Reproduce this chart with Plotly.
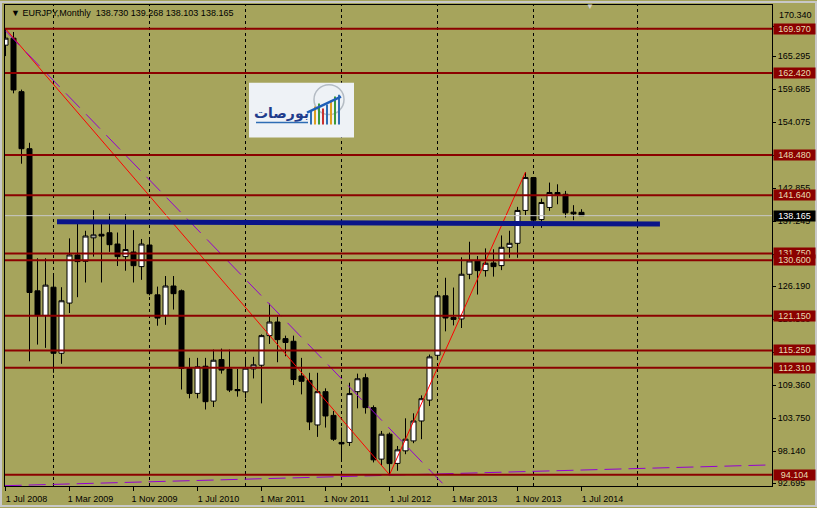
import plotly.graph_objects as go
import pandas as pd

# ---------------- data ----------------
symbol = "EURJPY,Monthly"
last_ohlc = ["138.730", "139.268", "138.103", "138.165"]

months = [d.strftime("%Y-%m") for d in pd.date_range("2008-07-01", periods=73, freq="MS")]

opens = [167.16, 168.35, 159.25, 149.55, 125.38, 121.20, 126.00, 114.76, 123.30, 131.48,
         130.40, 134.40, 135.00, 135.26, 133.34, 131.20, 131.98, 129.50, 133.17, 124.70,
         121.20, 126.20, 125.38, 112.17, 107.94, 112.56, 106.63, 113.70, 112.10, 108.60,
         108.20, 112.10, 112.73, 117.76, 120.08, 117.25, 116.80, 110.90, 110.14, 102.57,
         108.23, 104.20, 99.60, 99.60, 108.23, 110.60, 105.52, 96.76, 101.00, 96.03,
         98.17, 99.86, 103.25, 106.80, 114.42, 124.54, 120.86, 120.60, 128.20, 130.46,
         128.82, 130.12, 129.67, 132.78, 133.46, 139.05, 144.64, 137.50, 139.56, 142.10,
         141.80, 138.76, 138.730]
highs = [169.97, 169.40, 159.60, 150.56, 130.92, 130.92, 128.38, 126.00, 134.30, 136.85,
         135.60, 139.10, 136.85, 138.50, 135.30, 138.40, 135.70, 134.20, 134.30, 126.10,
         127.90, 127.90, 125.60, 113.98, 113.98, 113.98, 115.40, 115.56, 115.40, 112.10,
         113.98, 114.15, 117.98, 123.20, 121.03, 117.76, 117.76, 113.98, 111.44, 111.44,
         108.80, 104.94, 102.13, 109.75, 111.30, 111.30, 105.90, 101.55, 101.28, 99.00,
         103.70, 104.55, 107.60, 114.54, 124.90, 127.60, 125.94, 131.09, 133.73, 131.30,
         132.60, 132.44, 134.80, 135.60, 139.66, 145.58, 144.75, 141.08, 143.79, 143.50,
         142.37, 139.95, 139.268]
lows = [165.30, 158.97, 147.00, 113.40, 116.24, 115.68, 111.44, 112.97, 121.60, 124.30,
        126.80, 131.20, 126.80, 132.00, 129.60, 128.80, 126.80, 127.25, 124.60, 119.45,
        119.60, 122.20, 108.60, 107.10, 107.10, 105.20, 105.62, 111.30, 108.16, 107.38,
        107.10, 110.48, 106.24, 116.35, 113.24, 114.25, 109.35, 107.77, 101.70, 100.54,
        102.13, 99.86, 96.30, 99.00, 105.40, 104.50, 96.20, 95.63, 94.10, 94.78,
        97.60, 99.47, 100.15, 105.79, 113.60, 118.49, 119.50, 119.06, 127.36, 124.75,
        127.80, 127.80, 128.90, 131.00, 131.00, 138.25, 136.56, 136.10, 138.98, 140.10,
        137.86, 137.40, 138.103]
closes = [168.35, 159.54, 149.55, 125.10, 121.20, 126.35, 114.76, 123.69, 131.48, 130.35,
          134.70, 134.90, 134.70, 133.23, 131.20, 132.40, 129.66, 133.34, 124.90, 120.75,
          126.20, 124.90, 112.17, 107.94, 112.46, 106.53, 113.58, 111.90, 108.50, 108.40,
          112.22, 112.80, 117.76, 120.08, 117.08, 116.60, 110.30, 110.00, 103.08, 108.23,
          104.10, 100.15, 99.35, 107.90, 110.43, 105.52, 96.64, 101.00, 96.00, 98.34,
          100.15, 103.25, 107.04, 114.15, 124.54, 120.76, 120.52, 128.20, 130.46, 128.82,
          130.07, 129.50, 132.78, 133.46, 139.05, 144.64, 137.40, 140.40, 142.10, 141.69,
          138.64, 138.47, 138.165]

tick_months = ["2008-07", "2009-03", "2009-11", "2010-07", "2011-03",
               "2011-11", "2012-07", "2013-03", "2013-11", "2014-07"]
tick_text = ["1 Jul 2008", "1 Mar 2009", "1 Nov 2009", "1 Jul 2010", "1 Mar 2011",
             "1 Nov 2011", "1 Jul 2012", "1 Mar 2013", "1 Nov 2013", "1 Jul 2014"]
grid_bars = [6, 18, 30, 42, 54, 66, 79]

price_ticks = [170.340, 165.295, 159.685, 154.075, 148.465, 142.855, 137.245, 131.635,
               126.190, 120.580, 114.970, 109.360, 103.750, 98.140, 92.695]
top_tick_label = "170.340"
hline_levels = [169.970, 162.420, 148.480, 141.640, 131.750, 130.600,
                121.150, 115.250, 112.310, 94.104]
current_price = 138.165

zigzag_months = ["2008-07", "2012-07", "2013-12"]
zigzag_prices = [169.97, 94.104, 145.58]

violet_top_bars = [0.0, 57.0]
violet_top_prices = [169.6, 89.3]
violet_bottom_bars = [-0.1, 96.0]
violet_bottom_prices = [92.24, 95.79]

blue_bars = [6.44, 81.8]
blue_prices = [137.12, 136.73]

# ---------------- helpers ----------------
idx = {m: i for i, m in enumerate(months)}
x = list(range(len(months)))

BG = "#A6A45C"
RED = "#8B0000"
L, T, W, H = 5, 4, 767, 483
FONT = "Liberation Sans, Arial, sans-serif"


def pp(px, py):
    return (px - L) / W, 1 - (py - T) / H


fig = go.Figure()

fig.add_trace(go.Candlestick(
    x=x, open=opens, high=highs, low=lows, close=closes,
    increasing=dict(line=dict(color="black", width=1), fillcolor="white"),
    decreasing=dict(line=dict(color="black", width=1), fillcolor="black"),
    whiskerwidth=0, showlegend=False, hoverinfo="skip"))

fig.add_trace(go.Scatter(
    x=[idx[m] for m in zigzag_months], y=zigzag_prices, mode="lines",
    line=dict(color="#FF0000", width=1), showlegend=False, hoverinfo="skip"))

fig.add_trace(go.Scatter(
    x=violet_top_bars, y=violet_top_prices, mode="lines",
    line=dict(color="#9400D3", width=1, dash="20px,9px"), showlegend=False, hoverinfo="skip"))
fig.add_trace(go.Scatter(
    x=violet_bottom_bars, y=violet_bottom_prices, mode="lines",
    line=dict(color="#9400D3", width=1, dash="17px,7px"), showlegend=False, hoverinfo="skip"))

shapes = []
for g in grid_bars:
    shapes.append(dict(type="line", xref="x", yref="paper", x0=g, x1=g, y0=0, y1=1,
                       line=dict(color="black", width=1, dash="3px,3px"), layer="below"))
shapes.append(dict(type="line", xref="paper", yref="y", x0=0, x1=1,
                   y0=current_price, y1=current_price, line=dict(color="#C8C8C8", width=1)))
for lv in hline_levels:
    shapes.append(dict(type="line", xref="paper", yref="y", x0=0, x1=1, y0=lv, y1=lv,
                       line=dict(color=RED, width=2)))
shapes.append(dict(type="line", xref="x", yref="y", x0=blue_bars[0], x1=blue_bars[1],
                   y0=blue_prices[0], y1=blue_prices[1],
                   line=dict(color="#0A1488", width=5)))

# logo box (decoration)
x0, y0 = pp(249, 82)
x1, y1 = pp(354, 137)
shapes.append(dict(type="rect", xref="paper", yref="paper", x0=x0, y0=y1, x1=x1, y1=y0,
                   fillcolor="#EEF2F6", line=dict(width=0)))
gx0, gy0 = pp(314, 84)
gx1, gy1 = pp(344, 114)
shapes.append(dict(type="circle", xref="paper", yref="paper", x0=gx0, y0=gy1, x1=gx1, y1=gy0,
                   line=dict(color="#B4BCC4", width=1.5)))
bar_cols = ["#2E6DB4", "#E0A020", "#3A9A3A", "#C83030", "#2E6DB4", "#E0A020", "#3A9A3A", "#2E6DB4"]
bar_tops = [110, 106, 103, 108, 104, 100, 96, 94]
for k, (c, tp) in enumerate(zip(bar_cols, bar_tops)):
    bx0, by0 = pp(310 + 4 * k, tp)
    bx1, by1 = pp(312 + 4 * k, 124)
    shapes.append(dict(type="rect", xref="paper", yref="paper", x0=bx0, y0=by1, x1=bx1, y1=by0,
                       fillcolor=c, line=dict(width=0)))
ax0, ay0 = pp(307, 112)
ax1, ay1 = pp(341, 96)
shapes.append(dict(type="line", xref="paper", yref="paper", x0=ax0, y0=ay0, x1=ax1, y1=ay1,
                   line=dict(color="#1F5FB8", width=2.5)))
ux0, uy0 = pp(256, 122)
ux1, uy1 = pp(308, 122)
shapes.append(dict(type="line", xref="paper", yref="paper", x0=ux0, y0=uy0, x1=ux1, y1=uy1,
                   line=dict(color="#2E6DB4", width=1.5)))

# outer window border
bx0, by0 = pp(1, 1)
bx1, by1 = pp(816, 507)
shapes.append(dict(type="rect", xref="paper", yref="paper", x0=bx0, y0=by1, x1=bx1, y1=by0,
                   line=dict(color="#C8C8C8", width=2), layer="above"))

annotations = []
hx, hy = pp(9, 12)
annotations.append(dict(xref="paper", yref="paper", x=hx, y=hy, xanchor="left", yanchor="middle",
                        text="▼ " + symbol + "  " + " ".join(last_ohlc), showarrow=False,
                        font=dict(family=FONT, size=9, color="black")))
sx, sy = pp(596, 6)
annotations.append(dict(xref="paper", yref="paper", x=sx, y=sy, text="▼", showarrow=False,
                        yanchor="middle", font=dict(size=8, color="#D0D0D0")))
tx, ty = pp(281, 113)
annotations.append(dict(xref="paper", yref="paper", x=tx, y=ty, text="<b>بورصات</b>",
                        xanchor="center", yanchor="middle",
                        showarrow=False, font=dict(family="DejaVu Sans", size=14, color="#1E3C8C")))

for lv in hline_levels:
    annotations.append(dict(xref="paper", yref="y", x=1, y=lv, xanchor="left", xshift=1,
                            text=f"{lv:.3f}", showarrow=False, width=41, height=10,
                            bgcolor=RED, borderpad=0,
                            font=dict(family=FONT, size=9, color="#E8DCB0")))
annotations.append(dict(xref="paper", yref="y", x=1, y=current_price, xanchor="left", xshift=1,
                        text=f"{current_price:.3f}", showarrow=False, width=41, height=10,
                        bgcolor="black", borderpad=0,
                        font=dict(family=FONT, size=9, color="white")))
# top scale label drawn just above its tick, as the terminal does
lx, ly = pp(777, 14)
annotations.append(dict(xref="paper", yref="paper", x=lx, y=ly, xanchor="left", yanchor="middle",
                        text=top_tick_label, showarrow=False,
                        font=dict(family=FONT, size=9, color="black")))

fig.update_layout(
    width=817, height=508,
    margin=dict(l=L, r=817 - L - W, t=T, b=508 - T - H),
    paper_bgcolor=BG, plot_bgcolor=BG,
    boxgap=0.375, boxgroupgap=0,
    shapes=shapes, annotations=annotations,
    font=dict(family=FONT, size=9, color="black"),
    xaxis=dict(range=[-0.0625, 95.81], rangeslider=dict(visible=False),
               tickmode="array", tickvals=[idx[m] for m in tick_months], ticktext=tick_text,
               ticks="outside", ticklen=4, tickcolor="black", ticklabelshift=21,
               showgrid=False, zeroline=False, showline=True, linecolor="black",
               linewidth=1, mirror=True, tickfont=dict(family=FONT, size=9, color="black")),
    yaxis=dict(range=[92.19, 173.99], side="right",
               tickmode="array", tickvals=price_ticks,
               ticktext=["" if f"{p:.3f}" == top_tick_label else f"{p:.3f}" for p in price_ticks],
               ticks="outside", ticklen=3, tickcolor="black",
               showgrid=False, zeroline=False, showline=True, linecolor="black",
               linewidth=1, mirror=True, tickfont=dict(family=FONT, size=9, color="black")),
)

fig.write_html("out.html", config={"displayModeBar": False},
               post_script="document.body.style.margin='0';document.body.style.overflow='hidden';")
